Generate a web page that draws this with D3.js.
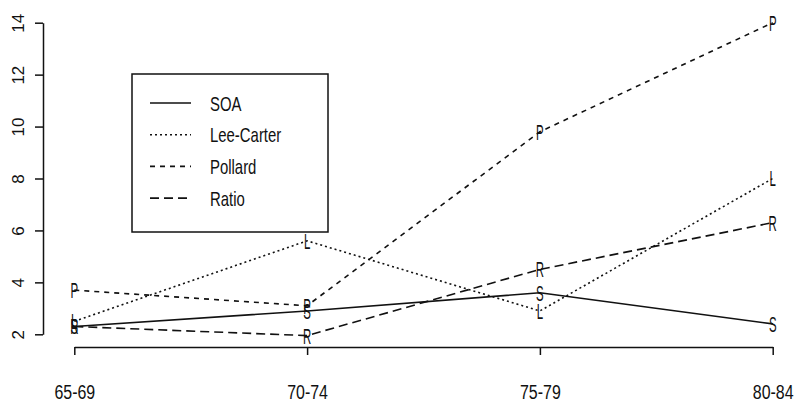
<!DOCTYPE html>
<html>
<head>
<meta charset="utf-8">
<script src="https://cdn.jsdelivr.net/npm/d3@7"></script>
<style>
  body { margin: 0; background: #fff; }
  text { font-family: "Liberation Sans", Arial, sans-serif; fill: #111; }
</style>
</head>
<body>
<svg id="chart" width="796" height="410"></svg>
<script>
const ageGroups = ["65-69", "70-74", "75-79", "80-84"];
const soa = [2.3, 2.9, 3.6, 2.4];
const leeCarter = [2.5, 5.6, 2.9, 8.0];
const pollard = [3.7, 3.1, 9.8, 14.0];
const ratio = [2.3, 1.95, 4.5, 6.3];
const yTicks = [2, 4, 6, 8, 10, 12, 14];

const series = [
  { name: "SOA", sym: "S", values: soa, dash: null },
  { name: "Lee-Carter", sym: "L", values: leeCarter, dash: "2,3" },
  { name: "Pollard", sym: "P", values: pollard, dash: "5,5" },
  { name: "Ratio", sym: "R", values: ratio, dash: "9,5" }
];

const svg = d3.select("#chart");

const x = d3.scalePoint().domain(ageGroups).range([74.3, 772.7]);
const y = d3.scaleLinear().domain([2, 14]).range([334.3, 22.7]);

// y axis, labels turned like R's default
const yAxis = svg.append("g")
  .attr("transform", "translate(43,0)")
  .call(d3.axisLeft(y).tickValues(yTicks).tickSize(8).tickSizeOuter(0).tickFormat(d => d));
yAxis.selectAll("text")
  .attr("x", null).attr("dy", null)
  .attr("transform", "translate(-19,0) rotate(-90)")
  .attr("text-anchor", "middle")
  .style("font-size", "17px");

// x axis
const xAxis = svg.append("g")
  .attr("transform", "translate(0,347)")
  .call(d3.axisBottom(x).tickSize(8).tickSizeOuter(0));
xAxis.selectAll("text")
  .attr("y", null).attr("dy", null)
  .attr("transform", "translate(0,52) scale(0.76,1)")
  .attr("text-anchor", "middle")
  .style("font-size", "21px");

svg.selectAll(".domain, .tick line").attr("stroke", "#111").attr("stroke-width", 1.5);

// lines
const line = d3.line()
  .x((d, i) => x(ageGroups[i]))
  .y(d => y(d));

svg.selectAll(".series")
  .data(series)
  .join("path")
  .attr("class", "series")
  .attr("fill", "none")
  .attr("stroke", "#111")
  .attr("stroke-width", 1.6)
  .attr("stroke-dasharray", d => d.dash)
  .attr("d", d => line(d.values));

// letters at the points
series.forEach(s => {
  svg.selectAll(null)
    .data(s.values)
    .join("text")
    .attr("transform", (d, i) => `translate(${x(ageGroups[i])},${y(d)}) scale(0.52,1)`)
    .attr("text-anchor", "middle")
    .attr("dy", "0.36em")
    .style("font-size", "22px")
    .text(s.sym);
});

// legend
const legend = svg.append("g");
legend.append("rect")
  .attr("x", 132).attr("y", 74)
  .attr("width", 196).attr("height", 158)
  .attr("fill", "#fff")
  .attr("stroke", "#111")
  .attr("stroke-width", 1.5);

const rows = legend.selectAll(".row")
  .data(series)
  .join("g")
  .attr("class", "row")
  .attr("transform", (d, i) => `translate(0,${103 + i * 31.7})`);
rows.append("line")
  .attr("x1", 150).attr("x2", 191)
  .attr("stroke", "#111")
  .attr("stroke-width", 1.6)
  .attr("stroke-dasharray", d => d.dash);
rows.append("text")
  .attr("transform", "translate(210,0) scale(0.71,1)")
  .attr("dy", "0.36em")
  .style("font-size", "21px")
  .text(d => d.name);
</script>
</body>
</html>
